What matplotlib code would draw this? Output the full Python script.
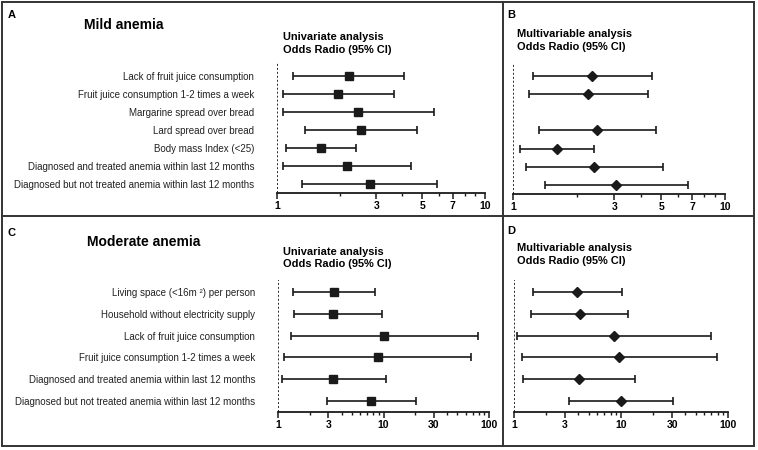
import matplotlib
matplotlib.use("Agg")
import matplotlib.pyplot as plt
from matplotlib.lines import Line2D
from matplotlib.ticker import FixedLocator, NullFormatter
import numpy as np

plt.rcParams["font.family"] = ["Liberation Sans", "DejaVu Sans"]

# ---- data ----------------------------------------------------------------
mild_labels = ["Lack of fruit juice consumption",
               "Fruit juice consumption 1-2 times a week",
               "Margarine spread over bread",
               "Lard spread over bread",
               "Body mass Index (<25)",
               "Diagnosed and treated anemia within last 12 months",
               "Diagnosed but not treated anemia within last 12 months"]
mild_uni_or = [2.22, 1.97, 2.45, 2.54, 1.63, 2.16, 2.79]
mild_uni_lo = [1.19, 1.07, 1.07, 1.37, 1.11, 1.07, 1.32]
mild_uni_hi = [4.08, 3.65, 5.70, 4.69, 2.40, 4.43, 5.90]
mild_multi_or = [2.35, 2.25, np.nan, 2.48, 1.61, 2.42, 3.06]
mild_multi_lo = [1.24, 1.19, np.nan, 1.33, 1.08, 1.15, 1.41]
mild_multi_hi = [4.51, 4.33, np.nan, 4.71, 2.42, 5.08, 6.71]

mod_labels = ["Living space (<16m \u00b2) per person",
              "Household without electricity supply",
              "Lack of fruit juice consumption",
              "Fruit juice consumption 1-2 times a week",
              "Diagnosed and treated anemia within last 12 months",
              "Diagnosed but not treated anemia within last 12 months"]
mod_uni_or = [3.40, 3.34, 10.2, 8.8, 3.34, 7.6]
mod_uni_lo = [1.38, 1.42, 1.34, 1.14, 1.10, 2.89]
mod_uni_hi = [8.3, 9.6, 78, 67, 10.5, 20.2]
mod_multi_or = [3.92, 4.15, 8.6, 9.6, 4.06, 10.0]
mod_multi_lo = [1.50, 1.45, 1.07, 1.18, 1.22, 3.27]
mod_multi_hi = [10.3, 11.7, 70, 79, 13.5, 30.6]

mild_ticks = [1, 3, 5, 7, 10]
mild_minor = [2, 4, 6, 8, 9]
mod_ticks = [1, 3, 10, 30, 100]
mod_minor = [2, 4, 5, 6, 7, 8, 9, 20, 40, 50, 60, 70, 80, 90]

W, H = 758, 450
INK = "#1a1a1a"
fig = plt.figure(figsize=(W / 100, H / 100), dpi=100)


def px_axes(x0, ybot, w, h):
    return fig.add_axes([x0 / W, 1 - ybot / H, w / W, h / H])


def forest(ax, orr, lo, hi, marker, ms, ylim, xmax, ticks, minor, labels=None):
    y = np.arange(1, len(orr) + 1)
    orr, lo, hi = np.array(orr), np.array(lo), np.array(hi)
    ok = ~np.isnan(orr)
    ax.errorbar(orr[ok], y[ok], xerr=[orr[ok] - lo[ok], hi[ok] - orr[ok]],
                fmt=marker, color=INK, ms=ms, elinewidth=1.2, capsize=3.2,
                capthick=1.2, zorder=3)
    ax.set_xscale("log")
    ax.set_xlim(1, xmax)
    ax.set_ylim(*ylim)
    ax.axvline(1, color=INK, ls=(0, (1.1, 1.1)), lw=1.3)
    for s in ("top", "right", "left"):
        ax.spines[s].set_visible(False)
    ax.spines["bottom"].set_linewidth(1.3)
    ax.spines["bottom"].set_color(INK)
    ax.xaxis.set_major_locator(FixedLocator(ticks))
    ax.xaxis.set_minor_locator(FixedLocator(minor))
    ax.xaxis.set_minor_formatter(NullFormatter())
    ax.set_xticklabels([str(t) for t in ticks], fontsize=7.5, fontweight="bold")
    ax.tick_params(axis="x", which="major", length=4, width=1.1, color=INK, pad=1.5)
    ax.tick_params(axis="x", which="minor", length=2.5, width=1, color=INK)
    ax.set_yticks(y)
    if labels:
        ax.set_yticklabels(labels, fontsize=7, color="#222222")
        ax.tick_params(axis="y", length=0, pad=16.5)
    else:
        ax.set_yticklabels([])
        ax.tick_params(axis="y", length=0)
    ax.patch.set_alpha(0)


axA = px_axes(277, 193, 208, 130)
forest(axA, mild_uni_or, mild_uni_lo, mild_uni_hi, "s", 5.5, (7.5, 0.28), 10,
       mild_ticks, mild_minor, mild_labels)
axB = px_axes(513, 194, 212, 131)
forest(axB, mild_multi_or, mild_multi_lo, mild_multi_hi, "D", 4.6, (7.5, 0.28), 10,
       mild_ticks, mild_minor)
axC = px_axes(278, 412, 211, 132)
forest(axC, mod_uni_or, mod_uni_lo, mod_uni_hi, "s", 5.5, (6.5, 0.45), 100,
       mod_ticks, mod_minor, mod_labels)
axD = px_axes(514, 412, 214, 132)
forest(axD, mod_multi_or, mod_multi_lo, mod_multi_hi, "D", 4.6, (6.5, 0.45), 100,
       mod_ticks, mod_minor)


def ftext(x, y, s, **kw):
    fig.text(x / W, 1 - y / H, s, va="center", ha="left", **kw)


# panel letters and titles
ftext(8, 15, "A", fontsize=8, fontweight="bold")
ftext(507, 15, "B", fontsize=8, fontweight="bold")
ftext(8, 233, "C", fontsize=8, fontweight="bold")
ftext(507, 231, "D", fontsize=8, fontweight="bold")
ftext(84, 25, "Mild anemia", fontsize=10, fontweight="bold")
ftext(87, 242, "Moderate anemia", fontsize=10, fontweight="bold")
ftext(283, 37, "Univariate analysis", fontsize=7.9, fontweight="bold")
ftext(283, 50, "Odds Radio (95% CI)", fontsize=7.9, fontweight="bold")
ftext(517, 34, "Multivariable analysis", fontsize=7.9, fontweight="bold")
ftext(517, 47, "Odds Radio (95% CI)", fontsize=7.9, fontweight="bold")
ftext(283, 252, "Univariate analysis", fontsize=7.9, fontweight="bold")
ftext(283, 264, "Odds Radio (95% CI)", fontsize=7.9, fontweight="bold")
ftext(517, 248, "Multivariable analysis", fontsize=7.9, fontweight="bold")
ftext(517, 261, "Odds Radio (95% CI)", fontsize=7.9, fontweight="bold")

# panel frames
frame = [((2, 2), (754, 2)), ((754, 2), (754, 446)), ((754, 446), (2, 446)),
         ((2, 446), (2, 2)), ((503, 2), (503, 446)), ((2, 216), (754, 216))]
for (x0, y0), (x1, y1) in frame:
    fig.add_artist(Line2D([x0 / W, x1 / W], [1 - y0 / H, 1 - y1 / H],
                          transform=fig.transFigure, color="#333333", lw=1.4))

fig.savefig("out.png", dpi=100)
